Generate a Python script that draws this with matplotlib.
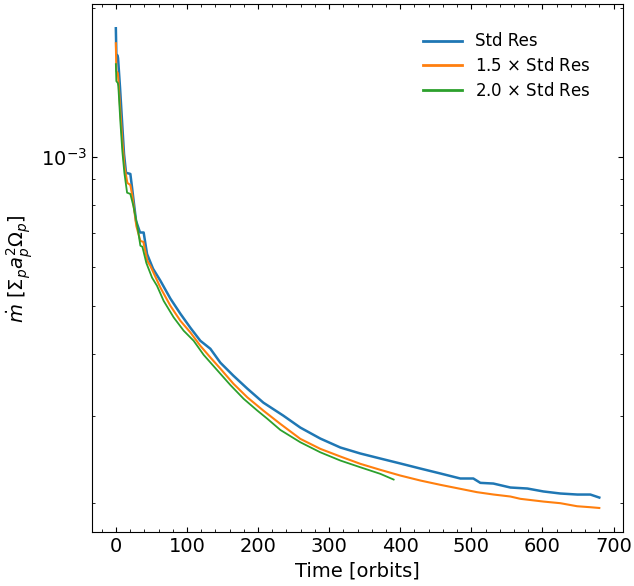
import matplotlib
matplotlib.use("Agg")
import matplotlib.pyplot as plt
from matplotlib.ticker import AutoMinorLocator, NullFormatter

# Std Res
t_std = [0, 0.7, 2.5, 3.1, 5.9, 8.7, 11.5, 14.3, 20.4, 22.8, 28.4, 34.0, 39.1,
         43.9, 52.3, 62.6, 76.7, 90.7, 104.8, 118.8, 132.9, 147, 165.3, 185,
         207.5, 235.6, 259.5, 287.6, 315.8, 343.9, 372, 400.1, 428.3, 456.4,
         484.5, 502.8, 512.7, 531, 554.9, 578.8, 601.3, 625.2, 649.1, 667.4, 680]
mdot_std = [1.817e-3, 1.611e-3, 1.60e-3, 1.581e-3, 1.377e-3, 1.180e-3, 1.013e-3,
            0.928e-3, 0.923e-3, 0.866e-3, 0.742e-3, 0.703e-3, 0.703e-3,
            0.636e-3, 0.594e-3, 0.562e-3, 0.517e-3, 0.482e-3, 0.4515e-3,
            0.425e-3, 0.4095e-3, 0.3838e-3, 0.3613e-3, 0.3401e-3, 0.3187e-3,
            0.3000e-3, 0.2838e-3, 0.2697e-3, 0.2587e-3, 0.2516e-3, 0.2458e-3,
            0.2402e-3, 0.2346e-3, 0.2293e-3, 0.2240e-3, 0.2240e-3, 0.2195e-3,
            0.2188e-3, 0.2148e-3, 0.2138e-3, 0.2109e-3, 0.2089e-3, 0.2079e-3,
            0.2079e-3, 0.2050e-3]

# 1.5 x Std Res
t_15 = [0, 0.7, 2.8, 3.5, 6.3, 9.1, 12, 16.2, 20.4, 23.2, 28.8, 34.5, 38.7,
        44.3, 48.5, 62.6, 76.7, 90.7, 104.8, 118.8, 132.9, 147, 165.3, 185,
        207.5, 231.4, 259.5, 287.6, 315.8, 343.9, 372, 400.1, 428.3, 456.4,
        484.5, 508, 531.4, 554.9, 568.9, 601.7, 625.2, 648.7, 667.4, 680]
mdot_15 = [1.695e-3, 1.489e-3, 1.475e-3, 1.434e-3, 1.236e-3, 1.076e-3, 0.958e-3,
           0.885e-3, 0.877e-3, 0.833e-3, 0.725e-3, 0.676e-3, 0.673e-3,
           0.616e-3, 0.602e-3, 0.5444e-3, 0.5000e-3, 0.4665e-3, 0.4418e-3,
           0.4152e-3, 0.3933e-3, 0.3733e-3, 0.3481e-3, 0.3266e-3, 0.3071e-3,
           0.2887e-3, 0.2693e-3, 0.2571e-3, 0.2481e-3, 0.2398e-3, 0.2332e-3,
           0.2271e-3, 0.2219e-3, 0.2175e-3, 0.2135e-3, 0.2102e-3, 0.2079e-3,
           0.2060e-3, 0.2038e-3, 0.2012e-3, 0.1997e-3, 0.1969e-3, 0.1960e-3,
           0.1953e-3]

# 2.0 x Std Res
t_20 = [0, 0.7, 2.8, 3.5, 6.3, 9.1, 12, 15.8, 20.4, 24.6, 30.2, 34.5, 37.3,
        42.9, 50.9, 57.9, 67.2, 81.3, 95.4, 109.4, 123.5, 142.3, 161, 179.7,
        198.6, 212.7, 231.4, 259.5, 287.6, 315.8, 343.9, 372, 390.7]
mdot_20 = [1.538e-3, 1.421e-3, 1.408e-3, 1.388e-3, 1.180e-3, 1.027e-3, 0.927e-3,
           0.846e-3, 0.841e-3, 0.796e-3, 0.725e-3, 0.661e-3, 0.658e-3,
           0.610e-3, 0.570e-3, 0.5486e-3, 0.5117e-3, 0.4738e-3, 0.4453e-3,
           0.425e-3, 0.398e-3, 0.371e-3, 0.346e-3, 0.3245e-3, 0.3075e-3,
           0.2960e-3, 0.2807e-3, 0.2651e-3, 0.2530e-3, 0.2435e-3, 0.2360e-3,
           0.2289e-3, 0.2229e-3]

labels = ["Std Res", r"1.5 $\times$ Std Res", r"2.0 $\times$ Std Res"]

plt.rcParams['font.size'] = 14

fig = plt.figure(figsize=(6.34, 5.86), dpi=100)
ax = fig.add_axes([0.1446, 0.0922, 0.8388, 0.9005])

ax.plot(t_std, mdot_std, color='tab:blue', lw=1.8, label=labels[0])
ax.plot(t_15, mdot_15, color='tab:orange', lw=1.5, label=labels[1])
ax.plot(t_20, mdot_20, color='tab:green', lw=1.3, label=labels[2])

ax.set_yscale('log')
ax.yaxis.set_minor_formatter(NullFormatter())
ax.xaxis.set_minor_locator(AutoMinorLocator())
ax.tick_params(which='both', direction='in', top=True, right=True)

ax.set_xlabel('Time [orbits]')
ax.set_ylabel(r'$\dot{m}$ [$\Sigma_p a_p^2 \Omega_p$]')

leg = ax.legend(frameon=False, loc='upper right', bbox_to_anchor=(0.966, 0.975),
                fontsize=12, handlelength=2.3, labelspacing=0.4)
for line in leg.get_lines():
    line.set_linewidth(2.0)

plt.savefig("out.png", dpi=100)
